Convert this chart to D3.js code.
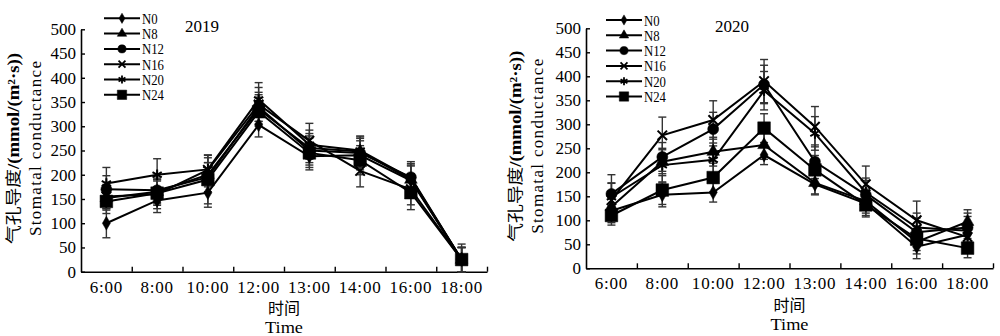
<!DOCTYPE html>
<html>
<head>
<meta charset="utf-8">
<script src="https://cdn.jsdelivr.net/npm/d3@7"></script>
<style>
  html, body { margin: 0; padding: 0; background: #fff; }
  svg { display: block; }
  text { font-family: "Liberation Serif", "Times New Roman", serif; fill: #000; }
</style>
</head>
<body>
<svg id="chart" width="1000" height="336"></svg>
<script>
// ---- data ----
const times = ["6:00", "8:00", "10:00", "12:00", "13:00", "14:00", "16:00", "18:00"];
const seriesNames = ["N0", "N8", "N12", "N16", "N20", "N24"];
const yTicks = [0, 50, 100, 150, 200, 250, 300, 350, 400, 450, 500];

// 2019 means
const y2019_N0  = [100, 147, 163, 303, 238, 240, 188, 25];
const y2019_N8  = [152, 165, 200, 335, 255, 248, 190, 25];
const y2019_N12 = [170, 168, 195, 340, 250, 245, 195, 25];
const y2019_N16 = [155, 160, 210, 345, 270, 208, 170, 25];
const y2019_N20 = [182, 200, 211, 355, 262, 250, 193, 25];
const y2019_N24 = [145, 162, 190, 330, 245, 230, 163, 25];
// 2019 error bars
const e2019_N0  = [30, 25, 30, 25, 28, 30, 30, 25];
const e2019_N8  = [25, 25, 25, 30, 30, 30, 30, 25];
const e2019_N12 = [28, 25, 30, 30, 30, 30, 32, 25];
const e2019_N16 = [25, 30, 25, 35, 36, 33, 32, 25];
const e2019_N20 = [33, 33, 30, 35, 30, 30, 30, 25];
const e2019_N24 = [25, 25, 50, 30, 30, 30, 35, 32];

// 2020 means
const y2020_N0  = [120, 153, 158, 236, 175, 135, 45, 70];
const y2020_N8  = [128, 222, 243, 257, 178, 140, 55, 97];
const y2020_N12 = [155, 232, 290, 383, 222, 153, 75, 85];
const y2020_N16 = [142, 277, 309, 390, 295, 175, 100, 65];
const y2020_N20 = [148, 215, 226, 370, 281, 158, 85, 78];
const y2020_N24 = [110, 163, 189, 292, 205, 132, 62, 42];
// 2020 error bars
const e2020_N0  = [25, 25, 20, 20, 20, 25, 25, 25];
const e2020_N8  = [25, 25, 30, 30, 25, 25, 25, 25];
const e2020_N12 = [40, 30, 35, 40, 35, 30, 30, 30];
const e2020_N16 = [35, 38, 40, 45, 42, 38, 40, 30];
const e2020_N20 = [30, 35, 35, 40, 35, 30, 30, 30];
const e2020_N24 = [20, 30, 30, 30, 30, 25, 25, 20];

const panels = [
  { year: "2019",
    means: [y2019_N0, y2019_N8, y2019_N12, y2019_N16, y2019_N20, y2019_N24],
    errs:  [e2019_N0, e2019_N8, e2019_N12, e2019_N16, e2019_N20, e2019_N24],
    x0: 81, x1: 487, yTop: 29.3, yBot: 271.7,
    legX: 104, legY: 18.3, yearX: 185, yearY: 32,
    t1X: 13, t2X: 35, tickLabY: 287, xt1Y: 314, xt2Y: 333 },
  { year: "2020",
    means: [y2020_N0, y2020_N8, y2020_N12, y2020_N16, y2020_N20, y2020_N24],
    errs:  [e2020_N0, e2020_N8, e2020_N12, e2020_N16, e2020_N20, e2020_N24],
    x0: 586, x1: 993, yTop: 28.3, yBot: 268.3,
    legX: 606, legY: 20, yearX: 715, yearY: 32,
    t1X: 515, t2X: 537, tickLabY: 283, xt1Y: 311, xt2Y: 330 }
];

const symbols = [
  { type: d3.symbolDiamond, size: 55, fill: true },
  { type: d3.symbolTriangle, size: 70, fill: true },
  { type: d3.symbolCircle, size: 95, fill: true },
  { type: d3.symbolX, size: 60, fill: false },
  { type: d3.symbolAsterisk, size: 80, fill: false },
  { type: d3.symbolSquare, size: 160, fill: true }
];

const svg = d3.select("#chart");

panels.forEach(p => {
  const g = svg.append("g");
  const x = d3.scaleBand().domain(times).range([p.x0, p.x1]).paddingInner(0).paddingOuter(0);
  const y = d3.scaleLinear().domain([0, 500]).range([p.yBot, p.yTop]);
  const boundary = d3.scaleLinear().domain([0, times.length]).range([p.x0, p.x1]);

  // y axis
  const ya = g.append("g").attr("transform", `translate(${p.x0},0)`)
    .call(d3.axisLeft(y).tickValues(yTicks).tickSizeInner(-4).tickSizeOuter(0).tickPadding(5));
  ya.select(".domain").attr("stroke", "#000").attr("stroke-width", 1.6);
  ya.selectAll(".tick line").attr("stroke", "#000").attr("stroke-width", 1.4);
  ya.selectAll(".tick text").style("font-family", "Liberation Serif").style("font-size", "17px").attr("fill", "#000");

  // x axis labels
  const xa = g.append("g").attr("transform", `translate(0,${p.yBot})`)
    .call(d3.axisBottom(x).tickSize(0).tickPadding(0));
  xa.select(".domain").attr("stroke", "#000").attr("stroke-width", 1.6);
  xa.selectAll(".tick text").style("font-family", "Liberation Serif").style("font-size", "17px")
    .attr("fill", "#000").attr("dy", null).attr("y", p.tickLabY - p.yBot + 6)
    .attr("letter-spacing", "0.8px");
  // x axis boundary ticks (inward)
  const xb = g.append("g").attr("transform", `translate(0,${p.yBot})`)
    .call(d3.axisBottom(boundary).tickValues(d3.range(1, times.length + 1)).tickSizeInner(-5).tickSizeOuter(0).tickFormat(""));
  xb.select(".domain").remove();
  xb.selectAll(".tick line").attr("stroke", "#000").attr("stroke-width", 1.4);

  // axis titles
  g.append("text").attr("x", (p.x0 + p.x1) / 2).attr("y", p.xt1Y).attr("text-anchor", "middle")
    .style("font-family", "Noto Sans CJK SC").style("font-size", "16px").text("时间");
  g.append("text").attr("x", (p.x0 + p.x1) / 2).attr("y", p.xt2Y).attr("text-anchor", "middle")
    .style("font-size", "17px").attr("textLength", 38).attr("lengthAdjust", "spacingAndGlyphs").text("Time");
  const cy = (p.yTop + p.yBot) / 2 - 2;
  const t1 = g.append("text").attr("transform", `translate(${p.t1X + 6},${cy}) rotate(-90)`)
    .attr("text-anchor", "middle").style("font-size", "16px")
    .attr("textLength", 191).attr("lengthAdjust", "spacingAndGlyphs");
  t1.append("tspan").style("font-family", "Noto Sans CJK SC").text("气孔导度");
  t1.append("tspan").style("font-family", "Liberation Serif").style("font-weight", "bold").text("/(mmol/(m²·s))");
  g.append("text").attr("transform", `translate(${p.t2X + 6},${cy}) rotate(-90)`)
    .attr("text-anchor", "middle").style("font-size", "17px")
    .attr("textLength", 175).attr("lengthAdjust", "spacing")
    .text("Stomatal conductance");

  // year label
  g.append("text").attr("x", p.yearX).attr("y", p.yearY).style("font-size", "17px").text(p.year);

  // error bars
  const capW = 4;
  p.means.forEach((vals, si) => {
    const eg = g.append("g");
    vals.forEach((v, i) => {
      const cx = x(times[i]) + x.bandwidth() / 2;
      const e = p.errs[si][i];
      const lo = Math.max(0, v - e), hi = v + e;
      eg.append("line").attr("x1", cx).attr("x2", cx).attr("y1", y(lo)).attr("y2", y(hi))
        .attr("stroke", "#333").attr("stroke-width", 1.4);
      [lo, hi].forEach(t => eg.append("line").attr("x1", cx - capW).attr("x2", cx + capW)
        .attr("y1", y(t)).attr("y2", y(t)).attr("stroke", "#333").attr("stroke-width", 1.4));
    });
  });

  // lines
  const line = d3.line().x((d, i) => x(times[i]) + x.bandwidth() / 2).y(d => y(d));
  p.means.forEach(vals => {
    g.append("path").datum(vals).attr("d", line).attr("fill", "none")
      .attr("stroke", "#000").attr("stroke-width", 2);
  });

  // markers
  p.means.forEach((vals, si) => {
    const s = symbols[si];
    const sym = d3.symbol().type(s.type).size(s.size);
    g.append("g").selectAll("path").data(vals).join("path")
      .attr("transform", (d, i) => `translate(${x(times[i]) + x.bandwidth() / 2},${y(d)})`)
      .attr("d", sym)
      .attr("fill", s.fill ? "#000" : "none")
      .attr("stroke", "#000").attr("stroke-width", s.fill ? 0.5 : 2);
  });

  // legend
  const lg = g.append("g");
  seriesNames.forEach((name, si) => {
    const ly = p.legY + si * 15.3;
    lg.append("line").attr("x1", p.legX).attr("x2", p.legX + 36).attr("y1", ly).attr("y2", ly)
      .attr("stroke", "#000").attr("stroke-width", 2);
    const s = symbols[si];
    lg.append("path").attr("transform", `translate(${p.legX + 18},${ly})`)
      .attr("d", d3.symbol().type(s.type).size(s.size * 0.55))
      .attr("fill", s.fill ? "#000" : "none").attr("stroke", "#000").attr("stroke-width", s.fill ? 0.5 : 1.8);
    lg.append("text").attr("transform", `translate(${p.legX + 38},${ly + 5.5}) scale(0.85,1)`)
      .style("font-size", "15px").text(name);
  });
});
</script>
</body>
</html>
